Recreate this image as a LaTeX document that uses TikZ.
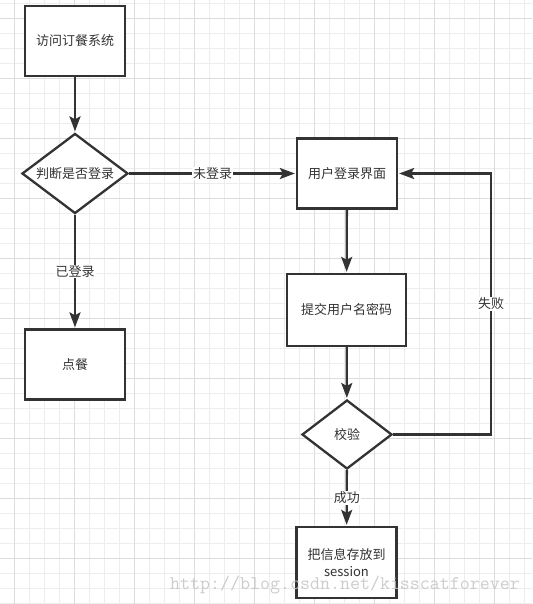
\documentclass[tikz,border=0pt]{standalone}
\usepackage{fontspec}
\newfontfamily\cjk{Noto Sans CJK SC}
\usetikzlibrary{shapes.geometric,arrows.meta}
\definecolor{ink}{HTML}{333333}
\definecolor{gridminor}{HTML}{EDEDED}
\definecolor{gridmajor}{HTML}{DCDCDC}
\definecolor{wmark}{HTML}{C4C4C4}
\tikzset{
  base/.style={draw=ink, line width=2.3pt, fill=white, text=ink, inner sep=0pt,
    font=\cjk\fontsize{13}{17}\selectfont, align=center},
  box/.style={base, rectangle, minimum width=100pt, minimum height=70pt},
  dia/.style={base, diamond, shape aspect=1.3},
  arr/.style={draw=ink, line width=2.3pt, shorten >=1pt, -{Stealth[length=15pt,width=11pt,inset=3pt]}},
  lbl/.style={fill=white, text=ink, inner sep=1pt, font=\cjk\fontsize{13}{15}\selectfont},
}
\begin{document}
\begin{tikzpicture}[x=1pt,y=-1pt]
\useasboundingbox (0,0) rectangle (532,604);
\fill[white] (0,0) rectangle (532,604);
% grid
\foreach \i in {-1,14,...,532} \draw[gridminor, line width=0.8pt] (\i,0) -- (\i,604);
\foreach \j in {3.3,18.3,...,604} \draw[gridminor, line width=0.8pt] (0,\j) -- (532,\j);
\foreach \i in {14,74,...,532} \draw[gridmajor, line width=0.8pt] (\i,0) -- (\i,604);
\foreach \j in {18.3,78.3,...,604} \draw[gridmajor, line width=0.8pt] (0,\j) -- (532,\j);

\node[box] (visit) at (75,41) {访问订餐系统};
\node[dia, minimum width=106pt, minimum height=80pt] (judge) at (75,173.5) {判断是否登录};
\node[box] (order) at (75,364.5) {点餐};
\node[box] (login) at (347,173.5) {用户登录界面};
\node[box, minimum width=119pt, minimum height=72pt] (submit) at (346.5,310) {提交用户名密码};
\node[dia, minimum width=90pt, minimum height=69pt] (check) at (347,434.5) {校验};
\node[box, minimum height=71pt] (save) at (346.5,562.5) {把信息存放到\\session};
\coordinate (c1) at (491,434.5);
\coordinate (c2) at (491,173.5);

\draw[arr] (visit) -- (judge);
\draw[arr] (judge) -- node[lbl]{未登录} (login);
\draw[arr] (judge) -- node[lbl]{已登录} (order);
\draw[arr] (login) -- (submit);
\draw[arr] (submit) -- (check);
\draw[arr] (check) -- node[lbl]{成功} (save);
\draw[arr] (check.east) -- (c1) -- node[lbl]{失败} (c2) -- (login.east);

\node[anchor=base west, inner sep=0pt, text=wmark, opacity=0.85,
  font=\ttfamily\fontsize{19.4}{20}\selectfont] (wm) at (170,589) {http://blog.csdn.net/kisscatforever};
\end{tikzpicture}
\end{document}
